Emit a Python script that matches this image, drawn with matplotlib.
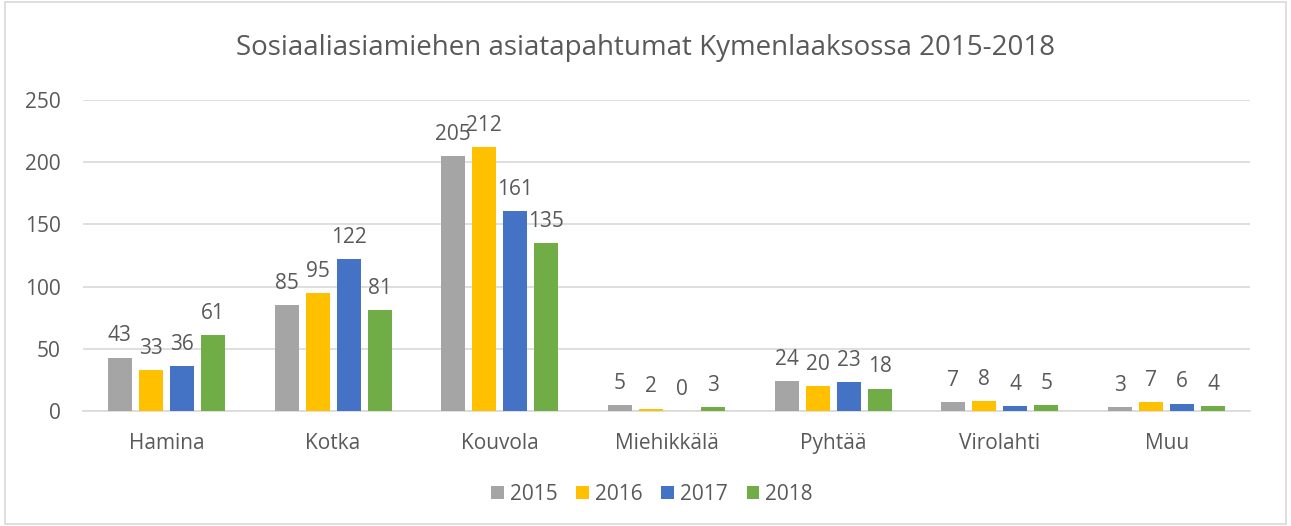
import numpy as np
import matplotlib.pyplot as plt
from matplotlib.patches import Rectangle

categories = ['Hamina', 'Kotka', 'Kouvola', 'Miehikkälä', 'Pyhtää', 'Virolahti', 'Muu']
years = ['2015', '2016', '2017', '2018']
v2015 = [43, 85, 205, 5, 24, 7, 3]
v2016 = [33, 95, 212, 2, 20, 8, 7]
v2017 = [36, 122, 161, 0, 23, 4, 6]
v2018 = [61, 81, 135, 3, 18, 5, 4]
colors = ['#A5A5A5', '#FFC000', '#4472C4', '#70AD47']

plt.rcParams['font.family'] = ['Open Sans', 'DejaVu Sans']
txt = '#595959'

fig = plt.figure(figsize=(12.91, 5.26), dpi=100)
ax = fig.add_axes([83 / 1291, 115 / 526, 1167 / 1291, 311 / 526])

x = np.arange(len(categories))
width = 0.144
step = 0.186
series = [v2015, v2016, v2017, v2018]
for i, (vals, col, yr) in enumerate(zip(series, colors, years)):
    pos = x + (i - 1.5) * step
    ax.bar(pos, vals, width, color=col, label=yr, zorder=3)
    for p, v in zip(pos, vals):
        ax.annotate(str(v), (p, v), xytext=(0, 8), textcoords='offset points',
                    ha='center', va='bottom', fontsize=15, color=txt)

ax.set_xlim(-0.5, len(categories) - 0.5)
ax.set_ylim(0, 250)
ax.set_yticks(range(0, 251, 50))
ax.set_xticks(x)
ax.set_xticklabels(categories)
ax.grid(axis='y', color='#D9D9D9', linewidth=1.2, zorder=0)
for s in ['top', 'right', 'left']:
    ax.spines[s].set_visible(False)
ax.spines['bottom'].set_color('#D9D9D9')
ax.spines['bottom'].set_linewidth(1.2)
ax.tick_params(length=0, labelsize=15, labelcolor=txt)
ax.tick_params(axis='x', pad=16)
ax.tick_params(axis='y', pad=16)

fig.text(0.5, 1 - 48 / 526, 'Sosiaaliasiamiehen asiatapahtumat Kymenlaaksossa 2015-2018',
         ha='center', va='center', fontsize=20, color=txt)

fig.legend(loc='center', bbox_to_anchor=(652 / 1291, 1 - 494 / 526), ncol=4, frameon=False,
           fontsize=15, labelcolor=txt, handlelength=0.6, handleheight=0.6,
           handletextpad=0.3, columnspacing=0.9)

fig.patches.append(Rectangle((0.004, 0.004), 0.992, 0.992, transform=fig.transFigure,
                             fill=False, edgecolor='#D9D9D9', linewidth=1.2))

fig.savefig('out.png', dpi=100)
